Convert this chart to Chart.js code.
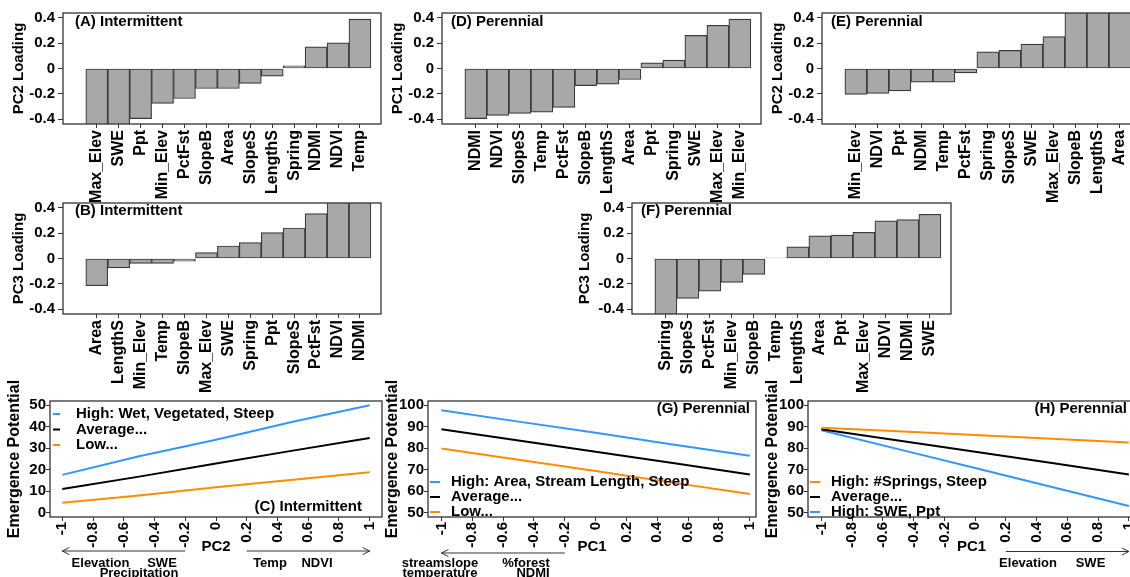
<!DOCTYPE html>
<html>
<head>
<meta charset="utf-8">
<script src="https://cdn.jsdelivr.net/npm/chart.js@4.4.1/dist/chart.umd.min.js"></script>
<style>
  html, body { margin: 0; padding: 0; width: 1130px; height: 577px; overflow: hidden; background: #fff; }
  canvas { position: absolute; }
</style>
</head>
<body>
<script>
// ---------- PCA loadings, bars sorted low to high within each panel ----------
const aVars = ['Max_Elev', 'SWE', 'Ppt', 'Min_Elev', 'PctFst', 'SlopeB', 'Area', 'SlopeS', 'LengthS', 'Spring', 'NDMI', 'NDVI', 'Temp'];
const aLoad = [-0.46, -0.45, -0.395, -0.276, -0.237, -0.158, -0.158, -0.118, -0.06, 0.021, 0.171, 0.203, 0.39];

const dVars = ['NDMI', 'NDVI', 'SlopeS', 'Temp', 'PctFst', 'SlopeB', 'LengthS', 'Area', 'Ppt', 'Spring', 'SWE', 'Max_Elev', 'Min_Elev'];
const dLoad = [-0.395, -0.37, -0.355, -0.345, -0.307, -0.135, -0.124, -0.087, 0.045, 0.066, 0.261, 0.341, 0.39];

const eVars = ['Min_Elev', 'NDVI', 'Ppt', 'NDMI', 'Temp', 'PctFst', 'Spring', 'SlopeS', 'SWE', 'Max_Elev', 'SlopeB', 'LengthS', 'Area'];
const eLoad = [-0.205, -0.197, -0.177, -0.108, -0.108, -0.034, 0.132, 0.143, 0.193, 0.251, 0.46, 0.47, 0.48];

const bVars = ['Area', 'LengthS', 'Min_Elev', 'Temp', 'SlopeB', 'Max_Elev', 'SWE', 'Spring', 'Ppt', 'SlopeS', 'PctFst', 'NDVI', 'NDMI'];
const bLoad = [-0.215, -0.074, -0.039, -0.039, -0.021, 0.047, 0.099, 0.126, 0.205, 0.241, 0.354, 0.46, 0.47];

const fVars = ['Spring', 'SlopeS', 'PctFst', 'Min_Elev', 'SlopeB', 'Temp', 'LengthS', 'Area', 'Ppt', 'Max_Elev', 'NDVI', 'NDMI', 'SWE'];
const fLoad = [-0.46, -0.315, -0.257, -0.189, -0.126, 0.005, 0.092, 0.178, 0.184, 0.207, 0.297, 0.307, 0.349];

const loadTicks = [-0.4, -0.2, 0, 0.2, 0.4];

// ---------- emergence potential along a PC axis ----------
const pcAt = [-1, -0.5, 0, 0.5, 1];
const pcTicks = [-1, -0.8, -0.6, -0.4, -0.2, 0, 0.2, 0.4, 0.6, 0.8, 1];

const cHigh = [17.6, 26.3, 34.0, 42.3, 50.0];
const cAvg  = [11.0, 16.8, 22.9, 28.9, 34.8];
const cLow  = [4.6, 8.0, 11.9, 15.3, 18.8];

const gHigh = [97.7, 92.4, 87.2, 81.8, 76.5];
const gAvg  = [88.9, 83.6, 78.4, 73.1, 67.8];
const gLow  = [79.9, 74.6, 69.4, 64.0, 58.7];

const hSprings = [89.6, 87.9, 86.2, 84.4, 82.7];
const hAvg     = [88.9, 83.6, 78.4, 73.1, 67.8];
const hSwe     = [88.4, 79.6, 70.8, 62.0, 53.1];

const epTicksInt = [0, 10, 20, 30, 40, 50];
const epTicksPer = [50, 60, 70, 80, 90, 100];

// ---------- styling ----------
const FONT = "'Liberation Sans', Arial, sans-serif";
const BLUE = '#3097ff';
const ORANGE = '#ff8c00';
const BLACK = '#000000';
const AXIS = '#333333';

Chart.defaults.font.family = FONT;
Chart.defaults.color = '#000';
Chart.defaults.animation = false;

function makeCanvas(left, top, w, h) {
  const c = document.createElement('canvas');
  c.width = w; c.height = h;
  c.style.left = left + 'px'; c.style.top = top + 'px';
  c.style.width = w + 'px'; c.style.height = h + 'px';
  document.body.appendChild(c);
  return c;
}

// frame, panel tag, legend and PC-direction arrows (page coordinates shifted by canvas offset)
function decoPlugin(ox, oy, d) {
  return {
    id: 'deco',
    afterDatasetsDraw(chart) {
      const ctx = chart.ctx, a = chart.chartArea;
      ctx.save();
      ctx.strokeStyle = AXIS; ctx.lineWidth = 1.3;
      ctx.strokeRect(a.left, a.top, a.right - a.left, a.bottom - a.top);

      ctx.fillStyle = '#000'; ctx.textBaseline = 'middle';
      (d.texts || []).forEach(t => {
        ctx.font = 'bold ' + (t.size || 15) + 'px ' + FONT;
        ctx.textAlign = t.align || 'left';
        ctx.fillText(t.t, t.x - ox, t.y - oy);
      });

      if (d.legend) {
        const L = d.legend;
        ctx.font = 'bold 15px ' + FONT; ctx.textAlign = 'left';
        L.items.forEach((it, i) => {
          const y = L.y + i * L.dy - oy;
          ctx.strokeStyle = it.c; ctx.lineWidth = 2;
          ctx.beginPath(); ctx.moveTo(L.x0 - ox, y); ctx.lineTo(L.x1 - ox, y); ctx.stroke();
          ctx.fillStyle = '#000';
          ctx.fillText(it.t, L.tx - ox, y);
        });
      }

      (d.arrows || []).forEach(ar => {
        const xs = chart.scales.x;
        const x0 = xs.getPixelForValue(ar.from), x1 = xs.getPixelForValue(ar.to);
        const y = ar.y - oy, dir = Math.sign(x1 - x0);
        ctx.strokeStyle = AXIS; ctx.lineWidth = 1;
        ctx.beginPath();
        ctx.moveTo(x0, y); ctx.lineTo(x1, y);
        ctx.moveTo(x1 - dir * 7, y - 3.5); ctx.lineTo(x1, y); ctx.lineTo(x1 - dir * 7, y + 3.5);
        ctx.stroke();
      });
      ctx.restore();
    }
  };
}

// ---------- loading bar panel ----------
function barPanel(box, vars, load, yTitle, tag, tagPos, titlePad) {
  const cl = box.L - 60, ct = box.ct, ch = box.ch, cw = box.R - cl + 20;
  const c = makeCanvas(cl, ct, cw, ch);
  new Chart(c, {
    type: 'bar',
    data: {
      datasets: [{
        data: load.map((v, i) => ({ x: i + 1, y: v })),
        backgroundColor: '#a8a8a8',
        borderColor: '#3a3a3a',
        borderWidth: 1.2,
        borderSkipped: false,
        categoryPercentage: 1,
        barPercentage: 1,
        clip: 0
      }]
    },
    options: {
      responsive: false, animation: false, events: [],
      layout: { padding: { top: box.T - ct, right: 20, left: 0, bottom: 0 } },
      plugins: { legend: { display: false }, tooltip: { enabled: false } },
      scales: {
        x: {
          type: 'linear', min: -0.54, max: 13.96, offset: false,
          afterBuildTicks: s => { s.ticks = vars.map((_, i) => ({ value: i + 1 })); },
          afterFit: s => { s.height = ct + ch - box.B; s.paddingLeft = 0; s.paddingRight = 0; },
          ticks: {
            autoSkip: false, minRotation: 90, maxRotation: 90, padding: 2,
            font: { size: 16, weight: 'bold' },
            callback: v => vars[v - 1]
          },
          grid: { drawOnChartArea: false, drawTicks: true, tickLength: 4, offset: false, color: AXIS, lineWidth: 1 },
          border: { display: false }
        },
        y: {
          min: -0.438, max: 0.438,
          afterBuildTicks: s => { s.ticks = loadTicks.map(v => ({ value: v })); },
          afterFit: s => { s.width = 60; s.paddingTop = 0; s.paddingBottom = 0; },
          ticks: { padding: 3, font: { size: 15, weight: 'bold' }, callback: v => String(v) },
          grid: { drawOnChartArea: false, drawTicks: true, tickLength: 5, color: AXIS, lineWidth: 1 },
          border: { display: false },
          title: { display: true, text: yTitle, font: { size: 15, weight: 'bold' }, padding: { top: titlePad, bottom: 0 } }
        }
      }
    },
    plugins: [decoPlugin(cl, ct, { texts: [{ t: tag, x: tagPos[0], y: tagPos[1] }] })]
  });
}

// ---------- emergence potential line panel ----------
function linePanel(box, series, yMin, yMax, yTicks, xMin, xMax, xTitle, deco) {
  const cl = box.L - 50, ct = 370, ch = 207, cw = box.R - cl + 20;
  const c = makeCanvas(cl, ct, cw, ch);
  new Chart(c, {
    type: 'line',
    data: {
      datasets: series.map(s => ({
        data: pcAt.map((x, i) => ({ x: x, y: s.v[i] })),
        borderColor: s.c, borderWidth: 2, pointRadius: 0, tension: 0, fill: false
      }))
    },
    options: {
      responsive: false, animation: false, events: [],
      layout: { padding: { top: box.T - ct, right: 20, left: 0, bottom: 0 } },
      plugins: { legend: { display: false }, tooltip: { enabled: false } },
      scales: {
        x: {
          type: 'linear', min: xMin, max: xMax,
          afterBuildTicks: s => { s.ticks = pcTicks.map(v => ({ value: v })); },
          afterFit: s => { s.height = ct + ch - box.B; s.paddingLeft = 0; s.paddingRight = 0; },
          ticks: { autoSkip: false, minRotation: 90, maxRotation: 90, padding: 1, font: { size: 15, weight: 'bold' }, callback: v => String(v) },
          grid: { drawOnChartArea: false, drawTicks: true, tickLength: 4, color: AXIS, lineWidth: 1 },
          border: { display: false },
          title: { display: true, text: xTitle, font: { size: 15, weight: 'bold' }, padding: { top: 0, bottom: 21.3 } }
        },
        y: {
          min: yMin, max: yMax,
          afterBuildTicks: s => { s.ticks = yTicks.map(v => ({ value: v })); },
          afterFit: s => { s.width = 50; s.paddingTop = 0; s.paddingBottom = 0; },
          ticks: { padding: 0, font: { size: 15, weight: 'bold' }, callback: v => String(v) },
          grid: { drawOnChartArea: false, drawTicks: true, tickLength: 4, color: AXIS, lineWidth: 1 },
          border: { display: false },
          title: { display: true, text: 'Emergence Potential', font: { size: 16, weight: 'bold' }, padding: { top: 5.4, bottom: 0 } }
        }
      }
    },
    plugins: [decoPlugin(cl, ct, deco)]
  });
}

// ---------- top row ----------
barPanel({ L: 63, R: 381, T: 13, B: 124, ct: 0, ch: 205 }, aVars, aLoad, 'PC2 Loading', '(A) Intermittent', [75, 22], 7);
barPanel({ L: 442, R: 761, T: 13, B: 124, ct: 0, ch: 205 }, dVars, dLoad, 'PC1 Loading', '(D) Perennial', [451, 22], 7);
barPanel({ L: 822, R: 1141, T: 13, B: 124, ct: 0, ch: 205 }, eVars, eLoad, 'PC2 Loading', '(E) Perennial', [831, 22], 7);

// ---------- middle row ----------
barPanel({ L: 63, R: 381, T: 203, B: 314, ct: 190, ch: 210 }, bVars, bLoad, 'PC3 Loading', '(B) Intermittent', [75, 211], 7);
barPanel({ L: 632, R: 951, T: 203, B: 314, ct: 190, ch: 210 }, fVars, fLoad, 'PC3 Loading', '(F) Perennial', [641, 211], 4);

// ---------- bottom row ----------
linePanel({ L: 50, R: 382, T: 401, B: 517 },
  [{ v: cHigh, c: BLUE }, { v: cAvg, c: BLACK }, { v: cLow, c: ORANGE }],
  -2, 52, epTicksInt, -1.08, 1.08, 'PC2',
  {
    texts: [
      { t: '(C) Intermittent', x: 362, y: 507, align: 'right' },
      { t: 'Elevation', x: 100.5, y: 563, align: 'center', size: 13 },
      { t: 'SWE', x: 162, y: 563, align: 'center', size: 13 },
      { t: 'Precipitation', x: 139, y: 573, align: 'center', size: 13 },
      { t: 'Temp', x: 270, y: 563, align: 'center', size: 13 },
      { t: 'NDVI', x: 317, y: 563, align: 'center', size: 13 }
    ],
    legend: { x0: 53, x1: 60, tx: 76, y: 414, dy: 15.5, items: [
      { c: BLUE, t: 'High: Wet, Vegetated, Steep' },
      { c: BLACK, t: 'Average...' },
      { c: ORANGE, t: 'Low...' }
    ] },
    arrows: [{ from: -0.2, to: -1, y: 551 }, { from: 0.2, to: 1, y: 551 }]
  });

linePanel({ L: 428, R: 756, T: 401, B: 517 },
  [{ v: gHigh, c: BLUE }, { v: gAvg, c: BLACK }, { v: gLow, c: ORANGE }],
  48, 102, epTicksPer, -1.087, 1.04, 'PC1',
  {
    texts: [
      { t: '(G) Perennial', x: 750, y: 409, align: 'right' },
      { t: 'streamslope', x: 440, y: 563, align: 'center', size: 13 },
      { t: '%forest', x: 526, y: 563, align: 'center', size: 13 },
      { t: 'temperature', x: 440, y: 573, align: 'center', size: 13 },
      { t: 'NDMI', x: 533, y: 573, align: 'center', size: 13 }
    ],
    legend: { x0: 430, x1: 440, tx: 451, y: 482, dy: 15, items: [
      { c: BLUE, t: 'High: Area, Stream Length, Steep' },
      { c: BLACK, t: 'Average...' },
      { c: ORANGE, t: 'Low...' }
    ] },
    arrows: [{ from: -0.2, to: -1, y: 553 }]
  });

linePanel({ L: 808, R: 1135, T: 401, B: 517 },
  [{ v: hSprings, c: ORANGE }, { v: hAvg, c: BLACK }, { v: hSwe, c: BLUE }],
  48, 102, epTicksPer, -1.087, 1.04, 'PC1',
  {
    texts: [
      { t: '(H) Perennial', x: 1127, y: 409, align: 'right' },
      { t: 'Elevation', x: 1028, y: 563, align: 'center', size: 13 },
      { t: 'SWE', x: 1090.5, y: 563, align: 'center', size: 13 }
    ],
    legend: { x0: 810, x1: 820, tx: 831, y: 482, dy: 15, items: [
      { c: ORANGE, t: 'High: #Springs, Steep' },
      { c: BLACK, t: 'Average...' },
      { c: BLUE, t: 'High: SWE, Ppt' }
    ] },
    arrows: [{ from: 0.2, to: 1, y: 551.5 }]
  });
</script>
</body>
</html>
